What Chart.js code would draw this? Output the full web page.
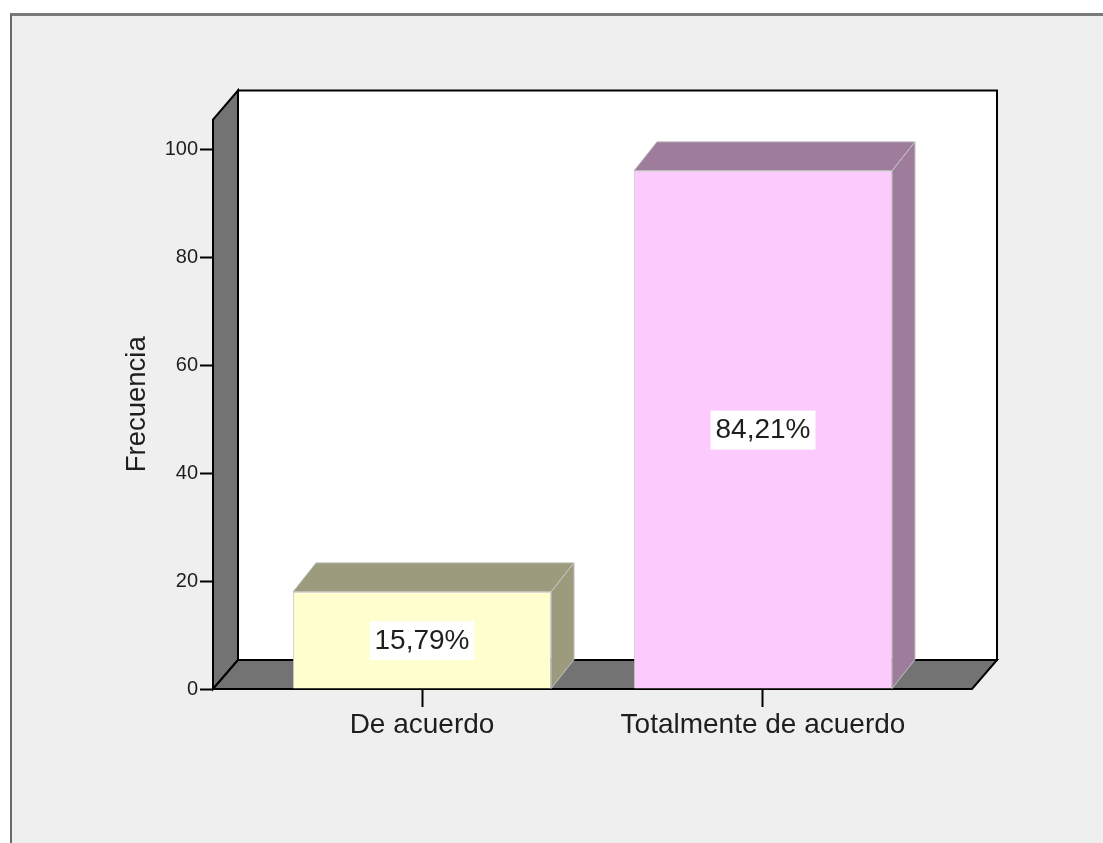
<!DOCTYPE html>
<html>
<head>
<meta charset="utf-8">
<script src="https://cdn.jsdelivr.net/npm/chart.js@4"></script>
<style>
  html, body { margin: 0; padding: 0; background: #fff; }
  .frame {
    position: absolute; left: 10px; top: 13px; width: 1093px; height: 830px;
    background: #efefef; border-top: 3px solid #7a7a7a; border-left: 2px solid #6a6a6a;
  }
  .wrap { position: absolute; left: 0; top: 0; width: 1103px; height: 843px; }
</style>
</head>
<body>
<div class="frame"></div>
<div class="wrap"><canvas id="chart" width="1103" height="843"></canvas></div>
<script>
const categories = ['De acuerdo', 'Totalmente de acuerdo'];
const frequencies = [18, 96];
const yTicks = [0, 20, 40, 60, 80, 100];

const total = frequencies.reduce((a, b) => a + b, 0);
const percentLabels = frequencies.map(v => (v / total * 100).toFixed(2).replace('.', ',') + '%');

const frontColors = ['#fefece', '#fdcafd'];
const shadeColors = ['#9c9b7e', '#9e7c9b'];

// walls, floor and bar tops/sides to fake the 3D look
const box3d = {
  id: 'box3d',
  beforeDatasetsDraw(chart) {
    const { ctx, chartArea: a } = chart;
    const dx = 25, dy = -29;
    ctx.save();
    ctx.lineWidth = 2;
    ctx.strokeStyle = '#000';
    ctx.lineJoin = 'miter';
    // back wall
    ctx.fillStyle = '#fff';
    ctx.fillRect(a.left + dx, a.top + dy, a.right - a.left, a.bottom - a.top);
    ctx.strokeRect(a.left + dx, a.top + dy, a.right - a.left, a.bottom - a.top);
    // left wall
    ctx.fillStyle = '#737373';
    ctx.beginPath();
    ctx.moveTo(a.left, a.bottom);
    ctx.lineTo(a.left, a.top);
    ctx.lineTo(a.left + dx, a.top + dy);
    ctx.lineTo(a.left + dx, a.bottom + dy);
    ctx.closePath();
    ctx.fill();
    ctx.stroke();
    // floor
    ctx.beginPath();
    ctx.moveTo(a.left, a.bottom);
    ctx.lineTo(a.right, a.bottom);
    ctx.lineTo(a.right + dx, a.bottom + dy);
    ctx.lineTo(a.left + dx, a.bottom + dy);
    ctx.closePath();
    ctx.fill();
    ctx.stroke();
    ctx.restore();
  },
  afterDatasetsDraw(chart) {
    const { ctx } = chart;
    const dx = 23, dy = -29;
    ctx.save();
    chart.getDatasetMeta(0).data.forEach((bar, i) => {
      const x0 = bar.x - bar.width / 2, x1 = bar.x + bar.width / 2;
      const top = bar.y, base = bar.base;
      ctx.fillStyle = shadeColors[i];
      ctx.strokeStyle = 'rgba(200,200,200,0.9)';
      ctx.lineWidth = 1;
      ctx.beginPath();
      ctx.moveTo(x0, top);
      ctx.lineTo(x0 + dx, top + dy);
      ctx.lineTo(x1 + dx, top + dy);
      ctx.lineTo(x1, top);
      ctx.closePath();
      ctx.fill();
      ctx.stroke();
      ctx.beginPath();
      ctx.moveTo(x1, top);
      ctx.lineTo(x1 + dx, top + dy);
      ctx.lineTo(x1 + dx, base + dy);
      ctx.lineTo(x1, base);
      ctx.closePath();
      ctx.fill();
      ctx.stroke();

      // percentage label in a white box
      const cy = (top + base) / 2;
      ctx.font = '28px "Liberation Sans", Arial, sans-serif';
      const w = ctx.measureText(percentLabels[i]).width + 10;
      ctx.fillStyle = '#fff';
      ctx.fillRect(bar.x - w / 2, cy - 19, w, 39);
      ctx.fillStyle = '#1e1e1e';
      ctx.textAlign = 'center';
      ctx.textBaseline = 'middle';
      ctx.fillText(percentLabels[i], bar.x, cy + 1);
    });
    ctx.restore();
  }
};

new Chart(document.getElementById('chart'), {
  type: 'bar',
  data: {
    datasets: [{
      data: frequencies.map((v, i) => ({ x: i, y: v })),
      backgroundColor: frontColors,
      borderColor: 'rgba(210,200,210,0.9)',
      borderWidth: 1,
      barPercentage: 0.757,
      categoryPercentage: 1
    }]
  },
  options: {
    responsive: false,
    animation: false,
    layout: { padding: { left: 110, right: 131, top: 119.5, bottom: 0 } },
    plugins: { legend: { display: false }, tooltip: { enabled: false } },
    scales: {
      x: {
        type: 'linear',
        min: -0.613,
        max: 1.613,
        offset: false,
        afterBuildTicks: s => { s.ticks = categories.map((c, i) => ({ value: i })); },
        afterFit: s => { s.height = 154; },
        border: { display: false },
        grid: { offset: false, drawOnChartArea: false, tickLength: 18, tickColor: '#000', tickWidth: 2 },
        ticks: {
          callback: v => categories[v],
          color: '#1e1e1e',
          padding: 1,
          maxRotation: 0,
          font: { family: '"Liberation Sans", Arial, sans-serif', size: 28 }
        }
      },
      y: {
        min: 0,
        max: 105.5,
        afterBuildTicks: s => { s.ticks = yTicks.map(v => ({ value: v })); },
        afterFit: s => { s.width = 103; },
        border: { color: '#000', width: 2 },
        grid: { drawOnChartArea: false, tickLength: 13, tickColor: '#000', tickWidth: 2 },
        ticks: {
          color: '#1e1e1e',
          padding: 2,
          font: { family: '"Liberation Sans", Arial, sans-serif', size: 20 }
        },
        title: {
          display: true,
          text: 'Frecuencia',
          color: '#1e1e1e',
          padding: { top: 11, bottom: 0 },
          font: { family: '"Liberation Sans", Arial, sans-serif', size: 27.5 }
        }
      }
    }
  },
  plugins: [box3d]
});
</script>
</body>
</html>
